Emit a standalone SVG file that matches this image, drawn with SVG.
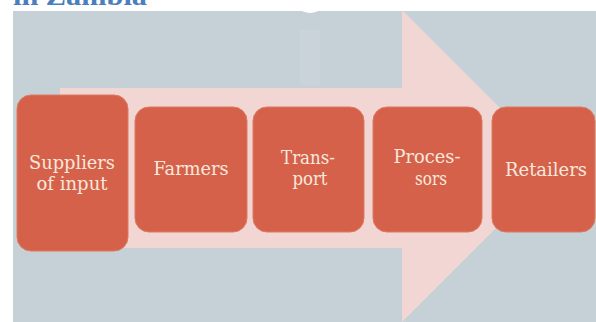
<svg xmlns="http://www.w3.org/2000/svg" width="596" height="322" viewBox="0 0 596 322">
<style>
.box{fill:#d5614a;stroke:#dd7a62;stroke-width:1}
.lbl{font-family:"DejaVu Serif","Liberation Serif",serif;font-size:18px;fill:#f8e8dc;text-anchor:middle}
.title{font-family:"Liberation Serif","Times New Roman",serif;font-size:27px;font-weight:bold;fill:#4a7ebd}
</style>
<rect x="0" y="0" width="596" height="322" fill="#ffffff"/>
<text class="title" x="13" y="5" textLength="134" lengthAdjust="spacingAndGlyphs">in Zambia</text>
<rect x="13" y="11" width="583" height="311" fill="#c6d1d7"/>
<rect x="300" y="30" width="20" height="55" fill="#cdd8dd" opacity="0.35"/>
<ellipse cx="310" cy="8" rx="10" ry="5" fill="#ffffff"/>
<g id="arrow">
<rect x="60" y="88" width="343" height="160" fill="#f1d6d3"/>
<polygon points="402,10 558,166 402,322" fill="#f1d6d3"/>
</g>
<g id="connectors"></g>
<g id="n1">
<rect class="box" x="17" y="95" width="111" height="156" rx="14"/>
<text class="lbl" x="72" y="169" textLength="86" lengthAdjust="spacingAndGlyphs">Suppliers</text>
<text class="lbl" x="72" y="190" textLength="71" lengthAdjust="spacingAndGlyphs">of input</text>
</g>
<g id="n2">
<rect class="box" x="135" y="107" width="112" height="125" rx="14"/>
<text class="lbl" x="191" y="175" textLength="75" lengthAdjust="spacingAndGlyphs">Farmers</text>
</g>
<g id="n3">
<rect class="box" x="253" y="107" width="111" height="125" rx="14"/>
<text class="lbl" x="308" y="164" textLength="54" lengthAdjust="spacingAndGlyphs">Trans-</text>
<text class="lbl" x="310" y="185" textLength="35" lengthAdjust="spacingAndGlyphs">port</text>
</g>
<g id="n4">
<rect class="box" x="373" y="107" width="109" height="125" rx="14"/>
<text class="lbl" x="427" y="163" textLength="67" lengthAdjust="spacingAndGlyphs">Proces-</text>
<text class="lbl" x="431" y="185" textLength="32" lengthAdjust="spacingAndGlyphs">sors</text>
</g>
<g id="n5">
<rect class="box" x="492" y="107" width="103" height="125" rx="14"/>
<text class="lbl" x="546" y="176" textLength="82" lengthAdjust="spacingAndGlyphs">Retailers</text>
</g>
</svg>
